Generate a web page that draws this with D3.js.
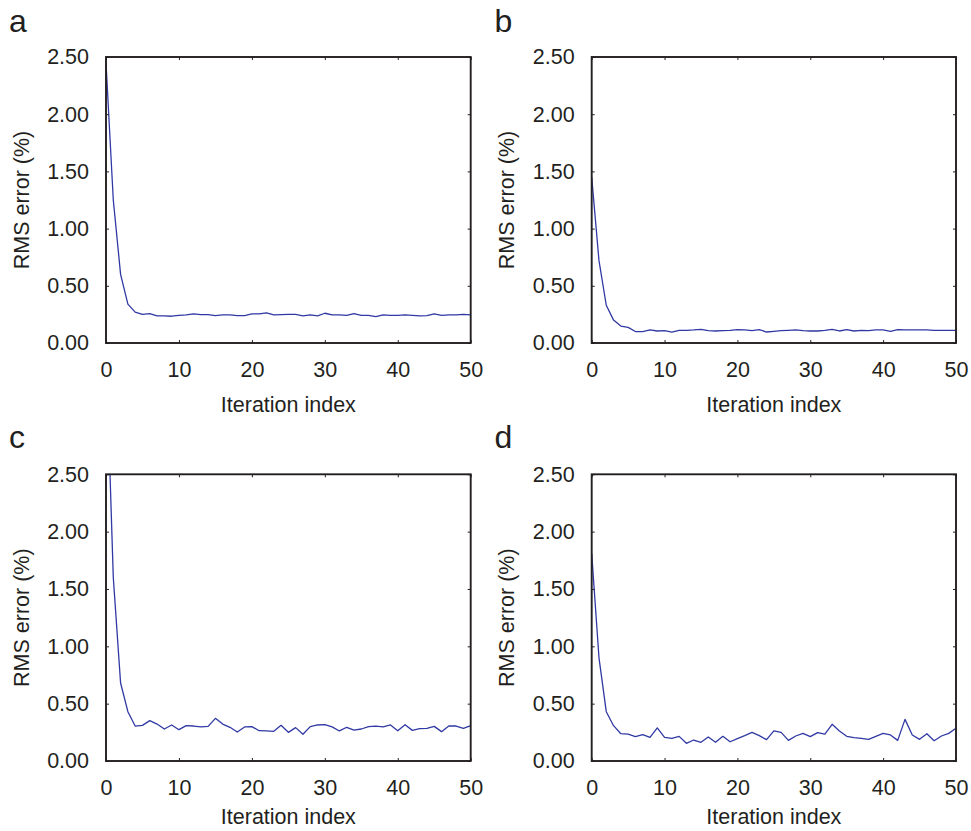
<!DOCTYPE html>
<html>
<head>
<meta charset="utf-8">
<script src="https://cdn.jsdelivr.net/npm/d3@7"></script>
<style>
  body { margin: 0; background: #fff; }
  svg { display: block; }
  text { font-family: "Liberation Sans", Arial, Helvetica, sans-serif; fill: #231f20; }
</style>
</head>
<body>
<svg id="chart" width="971" height="831"></svg>
<script>
// ---- data ----
const iterations = [0,1,2,3,4,5,6,7,8,9,10,11,12,13,14,15,16,17,18,19,20,21,22,23,24,25,26,27,28,29,30,31,32,33,34,35,36,37,38,39,40,41,42,43,44,45,46,47,48,49,50];

const seriesA = [2.45,1.25,0.60,0.34,0.27,0.25,0.257,0.237,0.237,0.234,0.242,0.245,0.254,0.248,0.248,0.240,0.245,0.245,0.240,0.240,0.254,0.254,0.263,0.245,0.248,0.250,0.250,0.237,0.245,0.237,0.260,0.245,0.245,0.242,0.257,0.242,0.242,0.230,0.245,0.242,0.242,0.245,0.242,0.237,0.240,0.254,0.242,0.245,0.245,0.250,0.245];

const seriesB = [1.45,0.72,0.33,0.20,0.148,0.137,0.100,0.100,0.114,0.105,0.108,0.096,0.111,0.111,0.114,0.119,0.108,0.105,0.108,0.111,0.117,0.114,0.108,0.117,0.096,0.102,0.108,0.111,0.114,0.108,0.105,0.105,0.111,0.119,0.105,0.117,0.105,0.111,0.108,0.114,0.114,0.102,0.117,0.114,0.114,0.114,0.114,0.111,0.111,0.111,0.111];

const seriesC = [3.6,1.60,0.68,0.43,0.305,0.311,0.352,0.322,0.279,0.314,0.273,0.308,0.305,0.297,0.302,0.372,0.322,0.294,0.253,0.297,0.300,0.264,0.262,0.259,0.311,0.250,0.291,0.233,0.300,0.314,0.317,0.297,0.262,0.294,0.270,0.279,0.300,0.305,0.297,0.314,0.264,0.317,0.267,0.282,0.285,0.302,0.256,0.305,0.305,0.285,0.308];

const seriesD = [1.81,0.90,0.43,0.308,0.238,0.235,0.212,0.230,0.206,0.288,0.206,0.198,0.215,0.154,0.183,0.163,0.209,0.163,0.215,0.168,0.195,0.221,0.250,0.221,0.186,0.262,0.250,0.180,0.218,0.241,0.212,0.247,0.235,0.320,0.262,0.215,0.203,0.198,0.189,0.215,0.241,0.227,0.180,0.363,0.227,0.189,0.238,0.177,0.218,0.241,0.285];

const panelLetters = ["a","b","c","d"];
const xTicks = [0,10,20,30,40,50];
const yTicks = [0,0.5,1.0,1.5,2.0,2.5];
const xTitle = "Iteration index";
const yTitle = "RMS error (%)";

// ---- layout ----
const svg = d3.select("#chart");
const panels = [
  {letter: panelLetters[0], data: seriesA, x0: 106,   x1: 470.7, y0: 57,    y1: 343,   lx: 9,     ly: 31.5,  ty: 412},
  {letter: panelLetters[1], data: seriesB, x0: 591.7, x1: 956,   y0: 57,    y1: 343,   lx: 494.5, ly: 31.5,  ty: 412},
  {letter: panelLetters[2], data: seriesC, x0: 106,   x1: 470.7, y0: 474.3, y1: 761,   lx: 9,     ly: 448,   ty: 824},
  {letter: panelLetters[3], data: seriesD, x0: 591.7, x1: 956,   y0: 474.3, y1: 761,   lx: 494.5, ly: 448,   ty: 824}
];

const fmt = d3.format(".2f");

panels.forEach((p, idx) => {
  const x = d3.scaleLinear().domain([0, 50]).range([p.x0, p.x1]);
  const y = d3.scaleLinear().domain([0, 2.5]).range([p.y1, p.y0]);
  const g = svg.append("g");

  const clipId = "clip" + idx;
  svg.append("clipPath").attr("id", clipId)
    .append("rect").attr("x", p.x0).attr("y", p.y0)
    .attr("width", p.x1 - p.x0).attr("height", p.y1 - p.y0);

  // line
  const line = d3.line().x((d, i) => x(iterations[i])).y(d => y(d));
  g.append("path").datum(p.data)
    .attr("clip-path", `url(#${clipId})`)
    .attr("d", line)
    .attr("fill", "none")
    .attr("stroke", "#3039a3")
    .attr("stroke-width", 1.3)
    .attr("stroke-linejoin", "round");

  // axes
  const styleAxis = sel => {
    sel.select(".domain").remove();
    sel.selectAll(".tick line").attr("stroke", "#231f20").attr("stroke-width", 1);
    sel.selectAll(".tick text").style("font-size", "21.5px").attr("fill", "#231f20");
  };
  g.append("g").attr("transform", `translate(0,${p.y1})`)
    .call(d3.axisBottom(x).tickValues(xTicks).tickSize(-3).tickPadding(19).tickFormat(d3.format("d")))
    .call(styleAxis);
  g.append("g").attr("transform", `translate(0,${p.y0})`)
    .call(d3.axisTop(x).tickValues(xTicks).tickSize(-3).tickFormat(""))
    .call(styleAxis);
  g.append("g").attr("transform", `translate(${p.x0},0)`)
    .call(d3.axisLeft(y).tickValues(yTicks).tickSize(-3).tickPadding(17).tickFormat(fmt))
    .call(styleAxis);
  g.append("g").attr("transform", `translate(${p.x1},0)`)
    .call(d3.axisRight(y).tickValues(yTicks).tickSize(-3).tickFormat(""))
    .call(styleAxis);

  // frame
  g.append("rect").attr("x", p.x0).attr("y", p.y0)
    .attr("width", p.x1 - p.x0).attr("height", p.y1 - p.y0)
    .attr("fill", "none").attr("stroke", "#231f20").attr("stroke-width", 1.9);

  // titles
  g.append("text").attr("x", (p.x0 + p.x1) / 2).attr("y", p.ty)
    .attr("text-anchor", "middle").style("font-size", "21.5px").text(xTitle);
  g.append("text")
    .attr("transform", `translate(${p.x0 - 77.5},${(p.y0 + p.y1) / 2}) rotate(-90)`)
    .attr("text-anchor", "middle").style("font-size", "21.5px").text(yTitle);

  // panel letter
  g.append("text").attr("x", p.lx).attr("y", p.ly)
    .style("font-size", "32px").text(p.letter);
});
</script>
</body>
</html>
